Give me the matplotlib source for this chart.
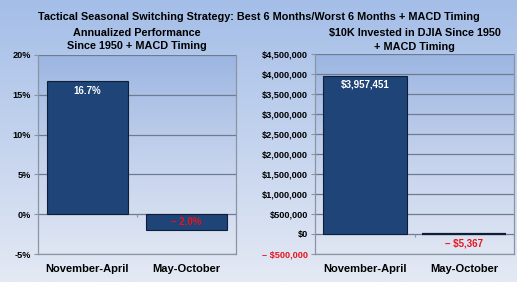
import numpy as np
import matplotlib

matplotlib.use("Agg")
import matplotlib.pyplot as plt
from matplotlib.colors import LinearSegmentedColormap

categories = ["November-April", "May-October"]
annualized_pct = [16.7, -2.0]
invested_usd = [3957451, -5367]

pct_labels = ["16.7%", "\u2013 2.0%"]
usd_labels = ["$3,957,451", "\u2013 $5,367"]

pct_ticks = [-5, 0, 5, 10, 15, 20]
usd_ticks = [-500000, 0, 500000, 1000000, 1500000, 2000000, 2500000,
             3000000, 3500000, 4000000, 4500000]

plt.rcParams["font.family"] = ["Liberation Sans", "DejaVu Sans"]
plt.rcParams["font.weight"] = "bold"

BAR = "#1f4478"
EDGE = "#0e1e38"
GRID = "#6f7c8f"
RED = "#e8141c"

fig = plt.figure(figsize=(5.17, 2.82), dpi=100)

# figure background gradient
bg = LinearSegmentedColormap.from_list("bg", ["#a4bee8", "#e4e9f4"])
bg_ax = fig.add_axes([0, 0, 1, 1], zorder=-10)
bg_ax.imshow(np.linspace(0, 1, 256)[:, None], aspect="auto", cmap=bg,
             extent=[0, 1, 0, 1])
bg_ax.axis("off")

area = LinearSegmentedColormap.from_list("area", ["#9cb6e2", "#c3d1ec", "#dfe6f3"])

W, H = 517, 282


def panel(left, right, top, bottom):
    return fig.add_axes([left / W, 1 - bottom / H, (right - left) / W, (bottom - top) / H])


def style(ax, ylo, yhi):
    ax.imshow(np.linspace(0, 1, 256)[:, None], aspect="auto", cmap=area,
              extent=[-0.5, 1.5, ylo, yhi], zorder=0)
    ax.set_xlim(-0.5, 1.5)
    ax.set_ylim(ylo, yhi)
    ax.grid(axis="y", color=GRID, lw=0.9, zorder=1)
    ax.set_axisbelow(True)
    for side in ax.spines.values():
        side.set_color("#8a94a3")
        side.set_linewidth(0.9)
    ax.spines["top"].set_visible(False)
    ax.tick_params(axis="y", length=3, labelsize=6.6, color="#8a94a3", pad=2)
    ax.tick_params(axis="x", length=0, labelsize=8, pad=7)
    ax.set_xticks(range(len(categories)))
    ax.set_xticklabels(categories, fontweight="bold")
    # small category-boundary ticks on the zero line
    span = (yhi - ylo) * 0.015
    ax.vlines([i + 0.5 for i in range(len(categories))], -span, 0,
              color="#8a94a3", lw=0.9, zorder=1)


# left panel: annualized performance
ax1 = panel(38, 236, 55, 254)
style(ax1, -5, 20)
ax1.bar(range(2), annualized_pct, width=0.82, color=BAR, edgecolor=EDGE, lw=0.8, zorder=2)
ax1.set_yticks(pct_ticks)
ax1.set_yticklabels([f"{t}%" for t in pct_ticks], fontweight="bold")
ax1.text(0, annualized_pct[0] - 0.6, pct_labels[0], color="white", ha="center", va="top",
         fontsize=7, fontweight="bold", zorder=3)
ax1.text(1, annualized_pct[1] / 2, pct_labels[1], color=RED, ha="center", va="center",
         fontsize=7, fontweight="bold", zorder=3)
ax1.set_title("Annualized Performance\nSince 1950 + MACD Timing", fontsize=7.8,
              fontweight="bold", pad=4, linespacing=1.45)

# right panel: $10K invested
ax2 = panel(315, 514, 54, 254)
style(ax2, -500000, 4500000)
ax2.bar(range(2), invested_usd, width=0.84, color=BAR, edgecolor=EDGE, lw=[0.8, 1.6], zorder=2)
ax2.set_yticks(usd_ticks)
ax2.set_yticklabels(["\u2013 $500,000" if t < 0 else f"${t:,}" for t in usd_ticks],
                    fontweight="bold")
ax2.get_yticklabels()[0].set_color(RED)
ax2.text(0, invested_usd[0] - 90000, usd_labels[0], color="white", ha="center", va="top",
         fontsize=7, fontweight="bold", zorder=3)
ax2.text(1, -120000, usd_labels[1], color=RED, ha="center", va="top",
         fontsize=7, fontweight="bold", zorder=3)
ax2.set_title("$10K Invested in DJIA Since 1950\n+ MACD Timing", fontsize=7.8,
              fontweight="bold", pad=3, linespacing=1.45)

fig.text(0.5, 1 - 17 / H, "Tactical Seasonal Switching Strategy: Best 6 Months/Worst 6 Months + MACD Timing",
         ha="center", va="center", fontsize=7.8, fontweight="bold")

fig.savefig("out.png", dpi=100)
